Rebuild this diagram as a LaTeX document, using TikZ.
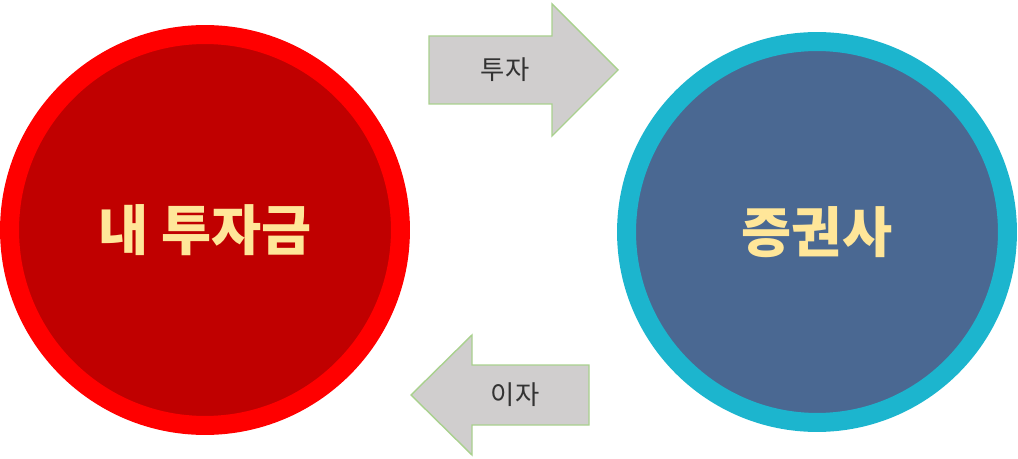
\documentclass[tikz,border=0pt]{standalone}
\usepackage{fontspec}
\newfontfamily\kr{Noto Sans CJK KR}
\definecolor{ringred}{HTML}{FF0000}
\definecolor{darkred}{HTML}{C00000}
\definecolor{ringcyan}{HTML}{1CB5CE}
\definecolor{slate}{HTML}{4A6892}
\definecolor{gold}{HTML}{FFE699}
\definecolor{arrowgray}{HTML}{D0CECE}
\definecolor{arrowline}{HTML}{A9D18E}
\tikzset{
  bigcircle/.style={circle,line width=0.38cm,text=gold,font=\kr\bfseries\fontsize{31}{36}\selectfont},
  flowarrow/.style={fill=arrowgray,draw=arrowline,line width=0.8pt},
  flowlabel/.style={font=\kr\fontsize{15}{18}\selectfont,text=black!80}
}
\begin{document}
\begin{tikzpicture}[x=0.02cm,y=-0.02cm]
    \useasboundingbox (0,0) rectangle (1018,459);

    % Les deux cercles
    \node[bigcircle,draw=ringred,fill=darkred,minimum size=7.82cm] (fund) at (205,230) {내 투자금};
    \node[bigcircle,draw=ringcyan,fill=slate,minimum size=7.62cm] (broker) at (817,232) {증권사};

    % Flèche du haut
    \draw[flowarrow] (429,36) -- (552,36) -- (552,4) -- (618,70) -- (552,136) -- (552,104) -- (429,104) -- cycle;
    \node[flowlabel] (invest) at (505,70) {투자};

    % Flèche du bas
    \draw[flowarrow] (589,365) -- (472,365) -- (472,335) -- (411,395) -- (472,455) -- (472,425) -- (589,425) -- cycle;
    \node[flowlabel] (interest) at (515,395) {이자};
\end{tikzpicture}
\end{document}
